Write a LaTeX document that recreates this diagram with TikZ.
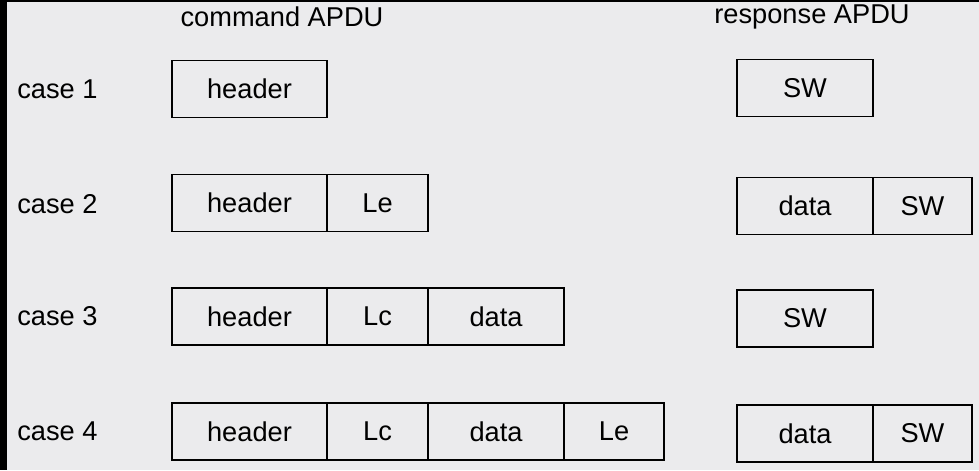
\documentclass[tikz,border=0pt]{standalone}
\usepackage{fontspec}
\setmainfont{Liberation Sans}
\usepackage{xcolor}
\usetikzlibrary{calc}

\definecolor{paper}{HTML}{EBEBED}

\tikzset{
  cell/.style={draw, thick, fill=paper, minimum height=1.14cm, inner sep=0pt},
  caselabel/.style={anchor=west, inner sep=0pt},
  title/.style={inner sep=0pt}
}

\begin{document}
\begin{tikzpicture}[x=0.02cm, y=-0.02cm, font=\fontsize{15.5}{18}\selectfont]
% page and scan border
\fill[paper] (0,0) rectangle (979,470);
\useasboundingbox (0,0) rectangle (979,470);
\fill[black] (0,0) rectangle (7,470);
\fill[black] (0,0) rectangle (979,2);

% Headers
\node[title] (cmd) at (282,17) {command APDU};
\node[title] (rsp) at (812,17) {response APDU};

% case 1
\node[caselabel] (c1) at (17,89) {case 1};
\node[cell, minimum width=3.1cm] (h1) at (249.5,89) {header};
\node[cell, minimum width=2.72cm] (sw1) at (805,88) {SW};

% case 2
\node[caselabel] (c2) at (17,204) {case 2};
\node[cell, minimum width=3.1cm] (h2) at (249.5,203) {header};
\node[cell, minimum width=2.02cm] (le2) at (377.5,203) {Le};
\node[cell, minimum width=2.72cm] (d2) at (805,206) {data};
\node[cell, minimum width=1.98cm] (sw2) at (922.5,206) {SW};

% case 3
\node[caselabel] (c3) at (17,316) {case 3};
\node[cell, minimum width=3.1cm] (h3) at (249.5,316.5) {header};
\node[cell, minimum width=2.02cm] (lc3) at (377.5,316.5) {Lc};
\node[cell, minimum width=2.72cm] (d3) at (496,316.5) {data};
\node[cell, minimum width=2.72cm] (sw3) at (805,318.5) {SW};

% case 4
\node[caselabel] (c4) at (17,431) {case 4};
\node[cell, minimum width=3.1cm] (h4) at (249.5,431.5) {header};
\node[cell, minimum width=2.02cm] (lc4) at (377.5,431.5) {Lc};
\node[cell, minimum width=2.72cm] (d4) at (496,431.5) {data};
\node[cell, minimum width=2.0cm] (le4) at (614,431.5) {Le};
\node[cell, minimum width=2.72cm] (d4r) at (805,433.5) {data};
\node[cell, minimum width=1.98cm] (sw4) at (922.5,433.5) {SW};
\end{tikzpicture}
\end{document}
